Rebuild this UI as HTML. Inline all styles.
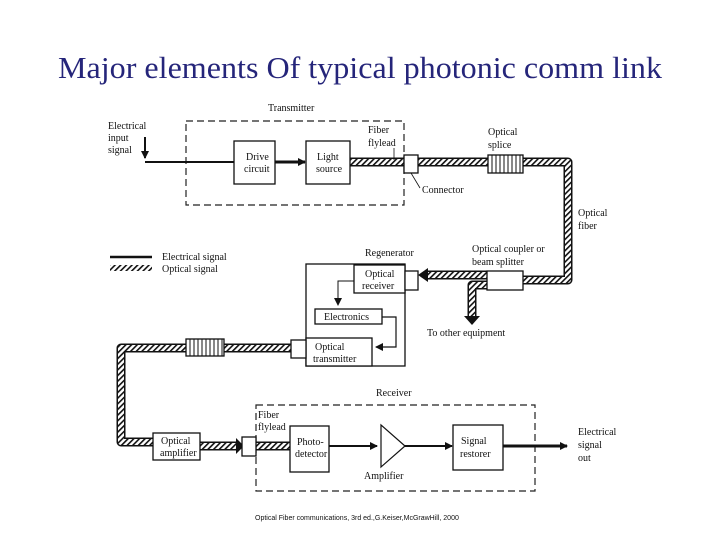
<!DOCTYPE html>
<html><head><meta charset="utf-8"><style>
body{margin:0;background:#fff;}
svg{display:block;}
.t{font-family:"Liberation Serif",serif;font-size:10px;fill:#111;}
.b{fill:#fff;stroke:#111;stroke-width:1.3;}
</style></head><body>
<svg width="720" height="540" viewBox="0 0 720 540" xmlns="http://www.w3.org/2000/svg">
<defs>
<pattern id="h" width="4" height="4" patternUnits="userSpaceOnUse" patternTransform="rotate(45)">
<rect width="4" height="4" fill="#fff"/><rect width="1.6" height="4" fill="#111"/>
</pattern>
<marker id="a" markerWidth="8" markerHeight="8" refX="7" refY="4" orient="auto" markerUnits="userSpaceOnUse"><path d="M0,0 L8,4 L0,8 z" fill="#111"/></marker>
</defs>
<text x="360" y="78" text-anchor="middle" font-family="Liberation Serif,serif" font-size="31" fill="#25257a" textLength="604" lengthAdjust="spacingAndGlyphs">Major elements Of typical photonic comm link</text>

<g fill="none" stroke-linejoin="round">
<path d="M350,162 H568 V280 H523 M488,275 H428 M487,285 H472 V316 M291,348 H121 V442 H153 M200,446 H236 M256,446 H290" stroke="#111" stroke-width="9"/>
<path d="M350,162 H568 V280 H523 M488,275 H428 M487,285 H472 V316 M291,348 H121 V442 H153 M200,446 H236 M256,446 H290" stroke="url(#h)" stroke-width="6"/>
</g>
<path d="M464,316 H480 L472,325 z" fill="#111"/>
<path d="M428,268 V282 L418,275 z" fill="#111"/>
<path d="M236,438 V454 L244,446 z" fill="#111"/>

<rect x="186" y="121" width="218" height="84" fill="none" stroke="#222" stroke-width="1.2" stroke-dasharray="7,4"/>
<rect x="256" y="405" width="279" height="86" fill="none" stroke="#222" stroke-width="1.2" stroke-dasharray="7,4"/>

<path d="M145,137 V158" stroke="#111" stroke-width="2" marker-end="url(#a)"/>
<path d="M145,162 H234" stroke="#111" stroke-width="2"/>
<path d="M275,162 H305" stroke="#111" stroke-width="3" marker-end="url(#a)"/>
<rect class="b" x="234" y="141" width="41" height="43"/>
<rect class="b" x="306" y="141" width="44" height="43"/>
<rect class="b" x="404" y="155" width="14" height="18"/>
<rect x="488" y="155" width="35" height="18" fill="#fff"/>
<rect x="186" y="339" width="38" height="17" fill="#fff"/>
<g stroke="#111" stroke-width="1">
<path d="M492,155V173M496,155V173M500,155V173M504,155V173M508,155V173M512,155V173M516,155V173M520,155V173"/>
<path d="M190,339V356M194,339V356M198,339V356M202,339V356M206,339V356M210,339V356M214,339V356M218,339V356M222,339V356"/>
</g>
<rect x="186" y="339" width="38" height="17" fill="none" stroke="#111" stroke-width="1.3"/>
<rect x="488" y="155" width="35" height="18" fill="none" stroke="#111" stroke-width="1.3"/>
<path d="M411,173 L420,188" stroke="#111" stroke-width="0.8"/>
<path d="M394,148 V160" stroke="#111" stroke-width="0.8"/>

<text class="t" x="268" y="111">Transmitter</text>
<text class="t" x="108" y="129">Electrical</text><text class="t" x="108" y="141">input</text><text class="t" x="108" y="153">signal</text>
<text class="t" x="246" y="160">Drive</text><text class="t" x="244" y="172">circuit</text>
<text class="t" x="317" y="160">Light</text><text class="t" x="316" y="172">source</text>
<text class="t" x="368" y="133">Fiber</text><text class="t" x="368" y="146">flylead</text>
<text class="t" x="488" y="135">Optical</text><text class="t" x="488" y="148">splice</text>
<text class="t" x="422" y="193">Connector</text>
<text class="t" x="578" y="216">Optical</text><text class="t" x="578" y="229">fiber</text>

<path d="M110,257 H152" stroke="#111" stroke-width="2.5"/>
<rect x="110" y="265" width="42" height="6" fill="url(#h)"/>
<text class="t" x="162" y="260">Electrical signal</text>
<text class="t" x="162" y="272">Optical signal</text>

<text class="t" x="365" y="256">Regenerator</text>
<text class="t" x="472" y="252">Optical coupler or</text><text class="t" x="472" y="265">beam splitter</text>
<rect class="b" x="306" y="264" width="99" height="102"/>
<rect class="b" x="354" y="265" width="51" height="28"/>
<rect class="b" x="405" y="271" width="13" height="19"/>
<rect class="b" x="487" y="271" width="36" height="19"/>
<text class="t" x="365" y="277">Optical</text><text class="t" x="362" y="289">receiver</text>
<path d="M354,281 H338 V305" stroke="#111" stroke-width="1" fill="none" marker-end="url(#a)"/>
<rect class="b" x="315" y="309" width="67" height="15"/>
<text class="t" x="324" y="320">Electronics</text>
<path d="M382,317 H396 V347 H376" stroke="#111" stroke-width="1.2" fill="none" marker-end="url(#a)"/>
<rect class="b" x="306" y="338" width="66" height="28"/>
<rect class="b" x="291" y="340" width="15" height="18"/>
<text class="t" x="315" y="350">Optical</text><text class="t" x="313" y="362">transmitter</text>
<text class="t" x="427" y="336">To other equipment</text>

<text class="t" x="376" y="396">Receiver</text>
<text class="t" x="258" y="418">Fiber</text><text class="t" x="258" y="430">flylead</text>
<rect class="b" x="153" y="433" width="47" height="27"/>
<text class="t" x="161" y="444">Optical</text><text class="t" x="160" y="456">amplifier</text>
<rect class="b" x="242" y="437" width="14" height="19"/>
<rect class="b" x="290" y="426" width="39" height="46"/>
<text class="t" x="297" y="445">Photo-</text><text class="t" x="295" y="457">detector</text>
<path d="M329,446 H377" stroke="#111" stroke-width="2" marker-end="url(#a)"/>
<path d="M381,425 L405,446 L381,467 z" fill="#fff" stroke="#111" stroke-width="1.2"/>
<path d="M405,446 H452" stroke="#111" stroke-width="2" marker-end="url(#a)"/>
<rect class="b" x="453" y="425" width="50" height="45"/>
<text class="t" x="461" y="444">Signal</text><text class="t" x="460" y="457">restorer</text>
<path d="M503,446 H567" stroke="#111" stroke-width="3" marker-end="url(#a)"/>
<text class="t" x="364" y="479">Amplifier</text>
<text class="t" x="578" y="435">Electrical</text><text class="t" x="578" y="448">signal</text><text class="t" x="578" y="461">out</text>

<text x="255" y="520" font-family="Liberation Sans,sans-serif" font-size="7" fill="#111">Optical Fiber communications, 3rd ed.,G.Keiser,McGrawHill, 2000</text>
</svg>
</body></html>
